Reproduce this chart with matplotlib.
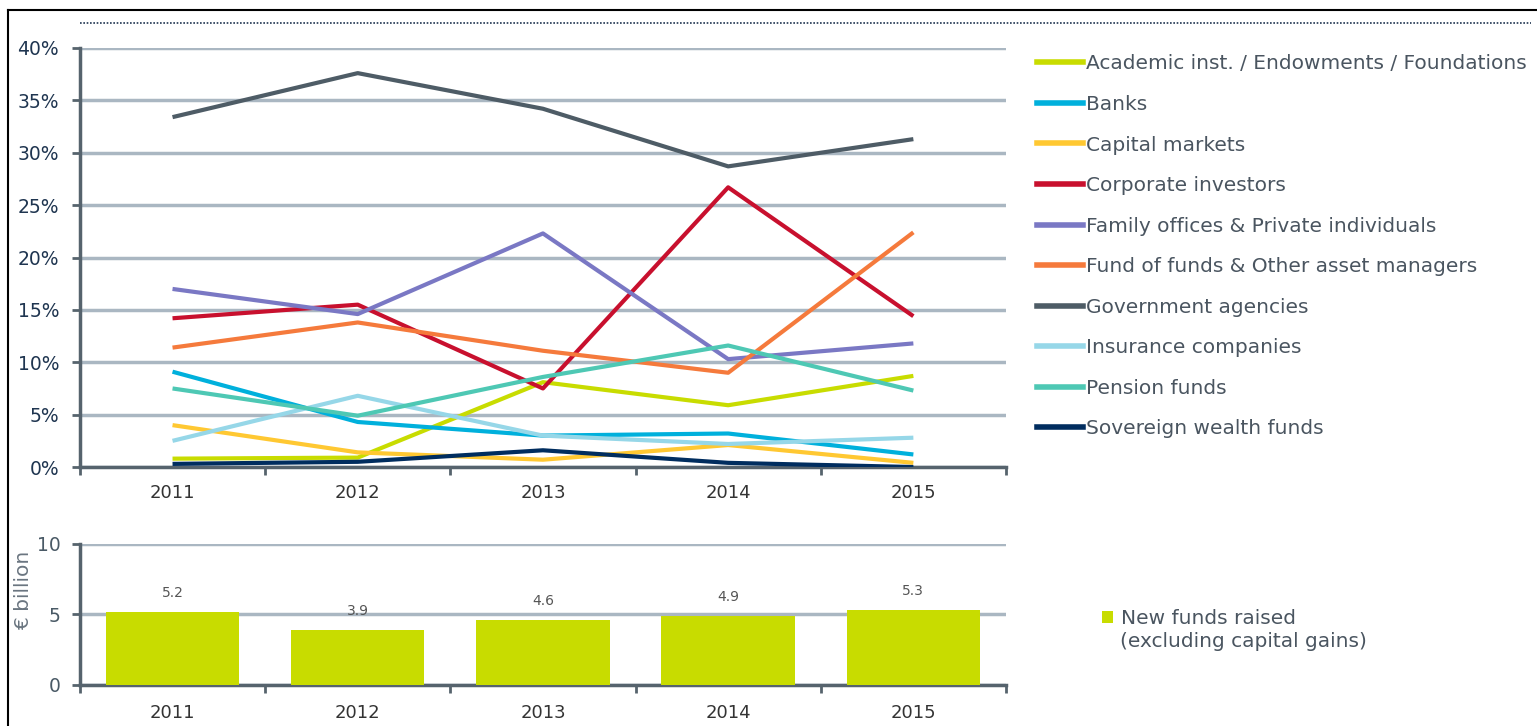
import numpy as np
import matplotlib.pyplot as plt
from matplotlib.lines import Line2D
from matplotlib.patches import Patch

# data
years = ["2011", "2012", "2013", "2014", "2015"]
series_names = [
    "Academic inst. / Endowments / Foundations",
    "Banks",
    "Capital markets",
    "Corporate investors",
    "Family offices & Private individuals",
    "Fund of funds & Other asset managers",
    "Government agencies",
    "Insurance companies",
    "Pension funds",
    "Sovereign wealth funds",
]
academic = [0.8, 0.9, 8.1, 5.9, 8.7]
banks = [9.1, 4.3, 3.0, 3.2, 1.2]
capital_markets = [4.0, 1.4, 0.7, 2.1, 0.4]
corporate = [14.2, 15.5, 7.5, 26.7, 14.4]
family_offices = [17.0, 14.6, 22.3, 10.3, 11.8]
fund_of_funds = [11.4, 13.8, 11.1, 9.0, 22.4]
government = [33.4, 37.6, 34.2, 28.7, 31.3]
insurance = [2.5, 6.8, 3.0, 2.2, 2.8]
pension = [7.5, 4.9, 8.6, 11.6, 7.3]
sovereign = [0.3, 0.5, 1.6, 0.4, 0.0]
new_funds = [5.2, 3.9, 4.6, 4.9, 5.3]

series = [academic, banks, capital_markets, corporate, family_offices,
          fund_of_funds, government, insurance, pension, sovereign]
colors = ["#c8dc00", "#00b0dc", "#ffc832", "#c8102e", "#7a78c4",
          "#f57a3c", "#4e5c66", "#96d7e8", "#4ec8b4", "#002d5f"]

axis_col = "#56636d"
grid_col = "#aab7c2"
text_col = "#4a5560"
navy = "#1f3550"

plt.rcParams['font.family'] = ['DejaVu Sans']

fig = plt.figure(figsize=(15.37, 7.26), dpi=100)
ax = fig.add_axes([0.052, 0.3567, 0.6025, 0.5772])
ax2 = fig.add_axes([0.052, 0.0565, 0.6025, 0.1942])

x = np.arange(len(years))

# --- top line chart
for vals, col, name in zip(series, colors, series_names):
    ax.plot(x, vals, color=col, lw=3, label=name, solid_capstyle='butt', zorder=3)

ax.set_xlim(-0.5, 4.5)
ax.set_ylim(0, 40)
ax.set_yticks(np.arange(0, 41, 5))
ax.set_yticklabels([f"{v}%" for v in range(0, 41, 5)])
ax.set_xticks(x)
ax.set_xticklabels(years)
ax.set_xticks(np.arange(-0.5, 5, 1), minor=True)
ax.tick_params(axis='x', which='major', length=0, pad=12, labelsize=13, labelcolor="#333333")
ax.tick_params(axis='x', which='minor', length=6, width=2, color=axis_col)
ax.tick_params(axis='y', length=6, width=2, color=axis_col, labelsize=13.5, labelcolor=navy, pad=9)
ax.grid(axis='y', color=grid_col, lw=2.5, zorder=0)
ax.set_axisbelow(True)
for s in ["top", "right"]:
    ax.spines[s].set_visible(False)
for s in ["left", "bottom"]:
    ax.spines[s].set_color(axis_col)
    ax.spines[s].set_linewidth(2.5)

# --- bottom bar chart
bars = ax2.bar(x, new_funds, width=0.72, color="#c8dc00", zorder=3)
for xi, v in zip(x, new_funds):
    ax2.text(xi, v + 0.85, f"{v:.1f}", ha='center', va='bottom', fontsize=10, color="#555555")
ax2.set_xlim(-0.5, 4.5)
ax2.set_ylim(0, 10)
ax2.set_yticks([0, 5, 10])
ax2.set_xticks(x)
ax2.set_xticklabels(years)
ax2.set_xticks(np.arange(-0.5, 5, 1), minor=True)
ax2.tick_params(axis='x', which='major', length=0, pad=14, labelsize=13, labelcolor="#333333")
ax2.tick_params(axis='x', which='minor', length=6, width=2, color=axis_col)
ax2.tick_params(axis='y', length=6, width=2, color=axis_col, labelsize=13.5, labelcolor="#4a5a66", pad=8)
ax2.grid(axis='y', color=grid_col, lw=2.5, zorder=0)
ax2.set_axisbelow(True)
ax2.set_ylabel("€ billion", fontsize=14.5, color="#6a7580")
ax2.yaxis.set_label_coords(-0.051, 0.67)
for s in ["top", "right"]:
    ax2.spines[s].set_visible(False)
for s in ["left", "bottom"]:
    ax2.spines[s].set_color(axis_col)
    ax2.spines[s].set_linewidth(2.5)

# --- legends
handles = [Line2D([], [], color=c, lw=4) for c in colors]
fig.legend(handles, series_names, loc='upper left', bbox_to_anchor=(0.675, 0.925),
           frameon=False, fontsize=14.5, handlelength=2.25, handletextpad=0.15,
           labelspacing=1.07, labelcolor=text_col, borderaxespad=0, borderpad=0)

fig.legend([Patch(facecolor="#c8dc00")], ["New funds raised"],
           loc='upper left', bbox_to_anchor=(0.717, 0.161), frameon=False, fontsize=14.5,
           handlelength=0.55, handleheight=0.55, handletextpad=0.4, labelcolor=text_col,
           borderaxespad=0, borderpad=0)
fig.text(0.7285, 0.116, "(excluding capital gains)", fontsize=14.5, color=text_col,
         ha='left', va='center')

# frame and dotted rule from the source layout
fig.add_artist(Line2D([0.0052, 1.0], [0.986, 0.986], color="black", lw=1.5, transform=fig.transFigure))
fig.add_artist(Line2D([0.0052, 0.0052], [0.0, 0.986], color="black", lw=1.5, transform=fig.transFigure))
fig.add_artist(Line2D([0.052, 0.996], [0.968, 0.968], color=navy, lw=1.2, ls=(0, (1, 1)),
                      transform=fig.transFigure))

fig.savefig("out.png", dpi=100)
